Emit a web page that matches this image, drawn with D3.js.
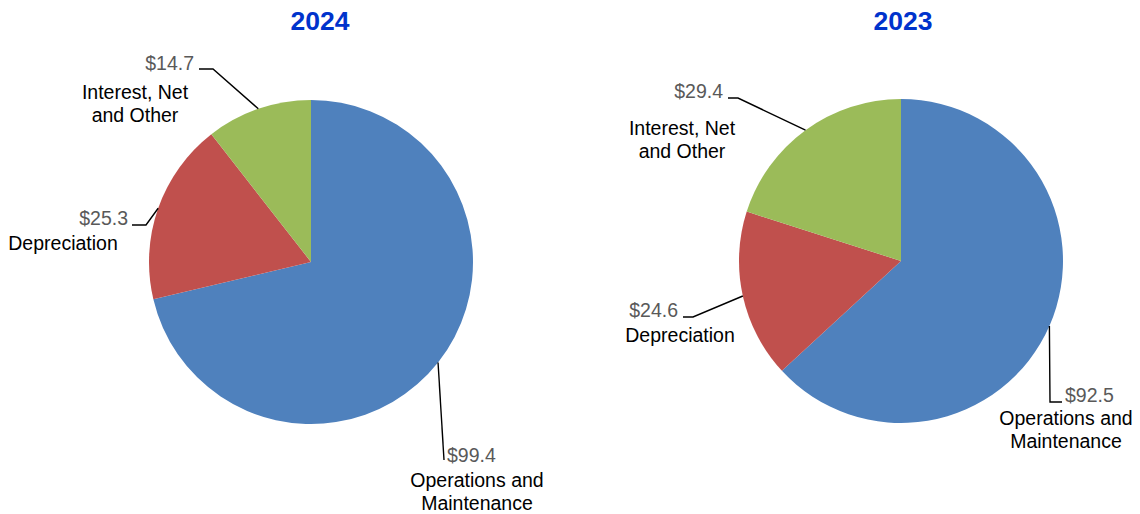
<!DOCTYPE html>
<html>
<head>
<meta charset="utf-8">
<script src="https://cdn.jsdelivr.net/npm/d3@7"></script>
<style>
  body { margin: 0; background: #fff; }
  svg { display: block; font-family: "Liberation Sans", Arial, sans-serif; }
</style>
</head>
<body>
<div id="chart"></div>
<script>
"use strict";

// Data
const categories = ["Operations and Maintenance", "Depreciation", "Interest, Net and Other"];
const years = ["2024", "2023"];
const values2024 = [99.4, 25.3, 14.7];
const values2023 = [92.5, 24.6, 29.4];
const colors = ["#4F81BD", "#C0504D", "#9BBB59"];

// Category labels are wrapped like the original
const categoryLines = [["Operations and", "Maintenance"], ["Depreciation"], ["Interest, Net", "and Other"]];

const width = 1140, height = 514;
const radius = 162;
const LABEL_SIZE = 19.5;

// Layout for each pie: centre, title and leader line / label placement (relative to centre)
const layouts = [
    {
        cx: 311, cy: 262, titleX: 320,
        labels: [
            {elbow: [133, 198], end: [133, 198], valueAt: [136, 200], valueAnchor: "start", catAt: [166, 225]},
            {elbow: [-165, -37], end: [-179, -37], valueAt: [-183, -37], valueAnchor: "end", catAt: [-248, -12]},
            {elbow: [-98, -193], end: [-112, -193], valueAt: [-117, -192], valueAnchor: "end", catAt: [-176, -163]}
        ]
    },
    {
        cx: 901, cy: 261, titleX: 903,
        labels: [
            {elbow: [149, 141], end: [161, 141], valueAt: [164, 141], valueAnchor: "start", catAt: [165, 164]},
            {elbow: [-208, 56], end: [-218, 56], valueAt: [-223, 56], valueAnchor: "end", catAt: [-221, 81]},
            {elbow: [-163, -163], end: [-173, -163], valueAt: [-178, -163], valueAnchor: "end", catAt: [-219, -126]}
        ]
    }
];

const svg = d3.select("#chart").append("svg")
    .attr("width", width)
    .attr("height", height);

const pie = d3.pie().sort(null).value(d => d);
const arc = d3.arc().innerRadius(0).outerRadius(radius);
const edgeArc = d3.arc().innerRadius(radius).outerRadius(radius);

[values2024, values2023].forEach(function (values, i) {
    const layout = layouts[i];
    const g = svg.append("g")
        .attr("transform", "translate(" + layout.cx + "," + layout.cy + ")");

    svg.append("text")
        .attr("x", layout.titleX)
        .attr("y", 30)
        .attr("text-anchor", "middle")
        .attr("font-size", 26.5)
        .attr("font-weight", "bold")
        .attr("fill", "#0033CC")
        .text(years[i]);

    const slices = pie(values);

    g.selectAll("path.slice")
        .data(slices)
        .enter().append("path")
        .attr("class", "slice")
        .attr("d", arc)
        .attr("fill", (d, j) => colors[j]);

    slices.forEach(function (d, j) {
        const lab = layout.labels[j];
        const start = edgeArc.centroid(d);

        g.append("polyline")
            .attr("points", [start, lab.elbow, lab.end].map(p => p.join(",")).join(" "))
            .attr("fill", "none")
            .attr("stroke", "#000")
            .attr("stroke-width", 1.4);

        g.append("text")
            .attr("x", lab.valueAt[0])
            .attr("y", lab.valueAt[1])
            .attr("text-anchor", lab.valueAnchor)
            .attr("font-size", LABEL_SIZE)
            .attr("fill", "#595959")
            .text("$" + d.data.toFixed(1));

        const t = g.append("text")
            .attr("text-anchor", "middle")
            .attr("font-size", LABEL_SIZE)
            .attr("fill", "#000");
        categoryLines[j].forEach(function (line, k) {
            t.append("tspan")
                .attr("x", lab.catAt[0])
                .attr("y", lab.catAt[1] + k * 22.5)
                .text(line);
        });
    });
});
</script>
</body>
</html>
